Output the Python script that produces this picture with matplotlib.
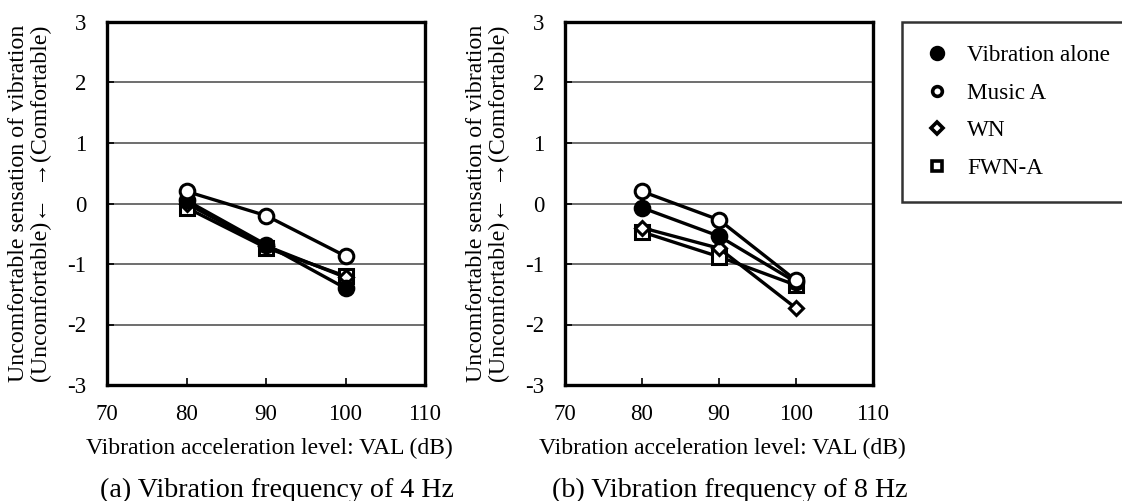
import matplotlib.pyplot as plt
from matplotlib.lines import Line2D

plt.rcParams['font.family'] = ['Liberation Serif', 'DejaVu Serif']

# VAL levels (dB)
val = [80, 90, 100]

# (a) 4 Hz
alone_4 = [0.05, -0.68, -1.40]
music_4 = [0.20, -0.20, -0.87]
wn_4 = [0.00, -0.70, -1.22]
fwn_4 = [-0.07, -0.73, -1.20]

# (b) 8 Hz
alone_8 = [-0.07, -0.54, -1.30]
music_8 = [0.20, -0.27, -1.27]
wn_8 = [-0.40, -0.74, -1.73]
fwn_8 = [-0.47, -0.88, -1.35]

labels = ['Vibration alone', 'Music A', 'WN', 'FWN-A']
markers = ['o', 'o', 'D', 's']
faces = ['black', 'white', 'white', 'white']
sizes = [10.5, 10.5, 7, 9.5]

captions = ['(a) Vibration frequency of 4 Hz', '(b) Vibration frequency of 8 Hz']
ylab = 'Uncomfortable sensation of vibration\n(Uncomfortable)\u2190  \u2192(Comfortable)'
xlab = 'Vibration acceleration level: VAL (dB)'

W, H = 1122, 501
fig = plt.figure(figsize=(W / 100, H / 100), dpi=100)

ax_a = fig.add_axes([107 / W, 1 - 385 / H, 318 / W, 363 / H])
ax_b = fig.add_axes([565 / W, 1 - 385 / H, 308 / W, 363 / H])

for ax, series, cap in [(ax_a, [alone_4, music_4, wn_4, fwn_4], captions[0]),
                        (ax_b, [alone_8, music_8, wn_8, fwn_8], captions[1])]:
    # draw in this order so filled / open circles sit on top like the original
    for i in [3, 2, 0, 1]:
        ax.plot(val, series[i], color='black', lw=2.4, marker=markers[i],
                markersize=sizes[i], markerfacecolor=faces[i],
                markeredgecolor='black', markeredgewidth=2.2, zorder=3)
    ax.set_xlim(70, 110)
    ax.set_ylim(-3, 3)
    ax.set_xticks([70, 80, 90, 100, 110])
    ax.set_yticks([-3, -2, -1, 0, 1, 2, 3])
    ax.set_yticklabels(['-3', '-2', '-1', '0', '1', '2', '3'])
    ax.grid(axis='y', color='#555555', lw=1.2, zorder=1)
    ax.tick_params(axis='both', direction='in', length=5, width=1.2,
                   labelsize=16.5)
    ax.tick_params(axis='y', pad=15)
    ax.tick_params(axis='x', pad=14)
    for s in ax.spines.values():
        s.set_linewidth(2.4)
    pos = ax.get_position()
    cx = pos.x0 + pos.width / 2
    fig.text(cx + 3 / W, 1 - 448 / H, xlab, fontsize=17, ha='center', va='center')
    fig.text(cx + 11 / W, 1 - 490 / H, cap, fontsize=20.2, ha='center', va='center')
    fig.text(pos.x0 - 77 / W, pos.y0 + pos.height * 0.5, ylab,
             rotation=90, ha='center', va='center', multialignment='center',
             fontsize=17.2, linespacing=1.15)

handles = [Line2D([], [], ls='none', marker=markers[i], color='black',
                  markerfacecolor=faces[i], markeredgewidth=2.6,
                  markersize=[8.5, 7, 6, 7.5][i]) for i in range(4)]
leg = fig.legend(handles, labels, loc='upper left',
                 bbox_to_anchor=(902 / W, 1 - 22 / H, 222 / W, 0),
                 mode='expand', borderaxespad=0, fontsize=16.7, frameon=True,
                 fancybox=False, edgecolor='black', labelspacing=0.7,
                 handlelength=1.0, handletextpad=0.8, borderpad=1.0)
leg.get_frame().set_linewidth(1.8)

fig.savefig('out.png', dpi=100)
